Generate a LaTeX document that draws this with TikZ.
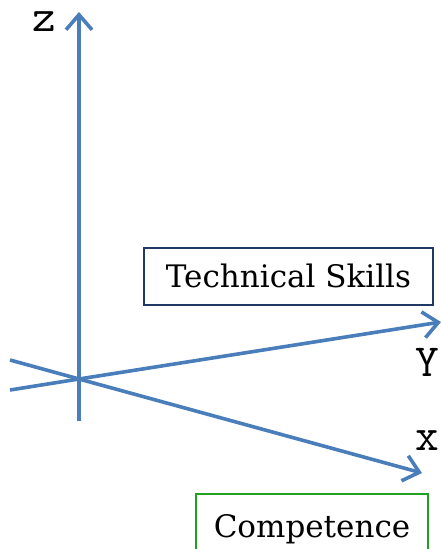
\documentclass[tikz,border=0pt]{standalone}
\usepackage{fontspec}
\setmainfont{DejaVu Serif}
\usetikzlibrary{arrows.meta}
\definecolor{axisblue}{HTML}{4A7EBB}
\definecolor{navybox}{HTML}{1F3864}
\definecolor{greenbox}{HTML}{22A022}
\tikzset{
  axisline/.style={draw=axisblue, line width=3.6pt, line cap=butt},
  axisarrow/.style={axisline, -{Straight Barb[length=15pt,width=26pt]}},
  axislabel/.style={font=\ttfamily\fontsize{46}{46}\selectfont, inner sep=0pt},
  labelbox/.style={draw, line width=1.5pt, font=\fontsize{31}{31}\selectfont, text height=25pt, text depth=4pt, inner xsep=0pt}
}
\begin{document}
\begin{tikzpicture}[x=1pt,y=-1pt]
\useasboundingbox (0,0) rectangle (441,549);
\coordinate (O) at (79,379);
\coordinate (zs) at (79,421);
\coordinate (ze) at (79,12);
\coordinate (ys) at (10,390);
\coordinate (ye) at (441,322);
\coordinate (xs) at (10,360);
\coordinate (xe) at (422,473);
\draw[axisline] (zs) -- (O);
\draw[axisarrow] (O) -- (ze);
\draw[axisline] (ys) -- (O);
\draw[axisarrow] (O) -- (ye);
\draw[axisline] (xs) -- (O);
\draw[axisarrow] (O) -- (xe);
\node[axislabel] (zl) at (44,22) {z};
\node[axislabel] (yl) at (427,362) {Y};
\node[axislabel] (xl) at (427,441) {x};
\node[labelbox, draw=navybox, minimum width=289pt, minimum height=57pt] (tech) at (288.5,276.5) {Technical Skills};
\node[labelbox, draw=greenbox, minimum width=232pt, minimum height=66pt, anchor=north] (comp) at (312,493) {Competence};
\end{tikzpicture}
\end{document}
